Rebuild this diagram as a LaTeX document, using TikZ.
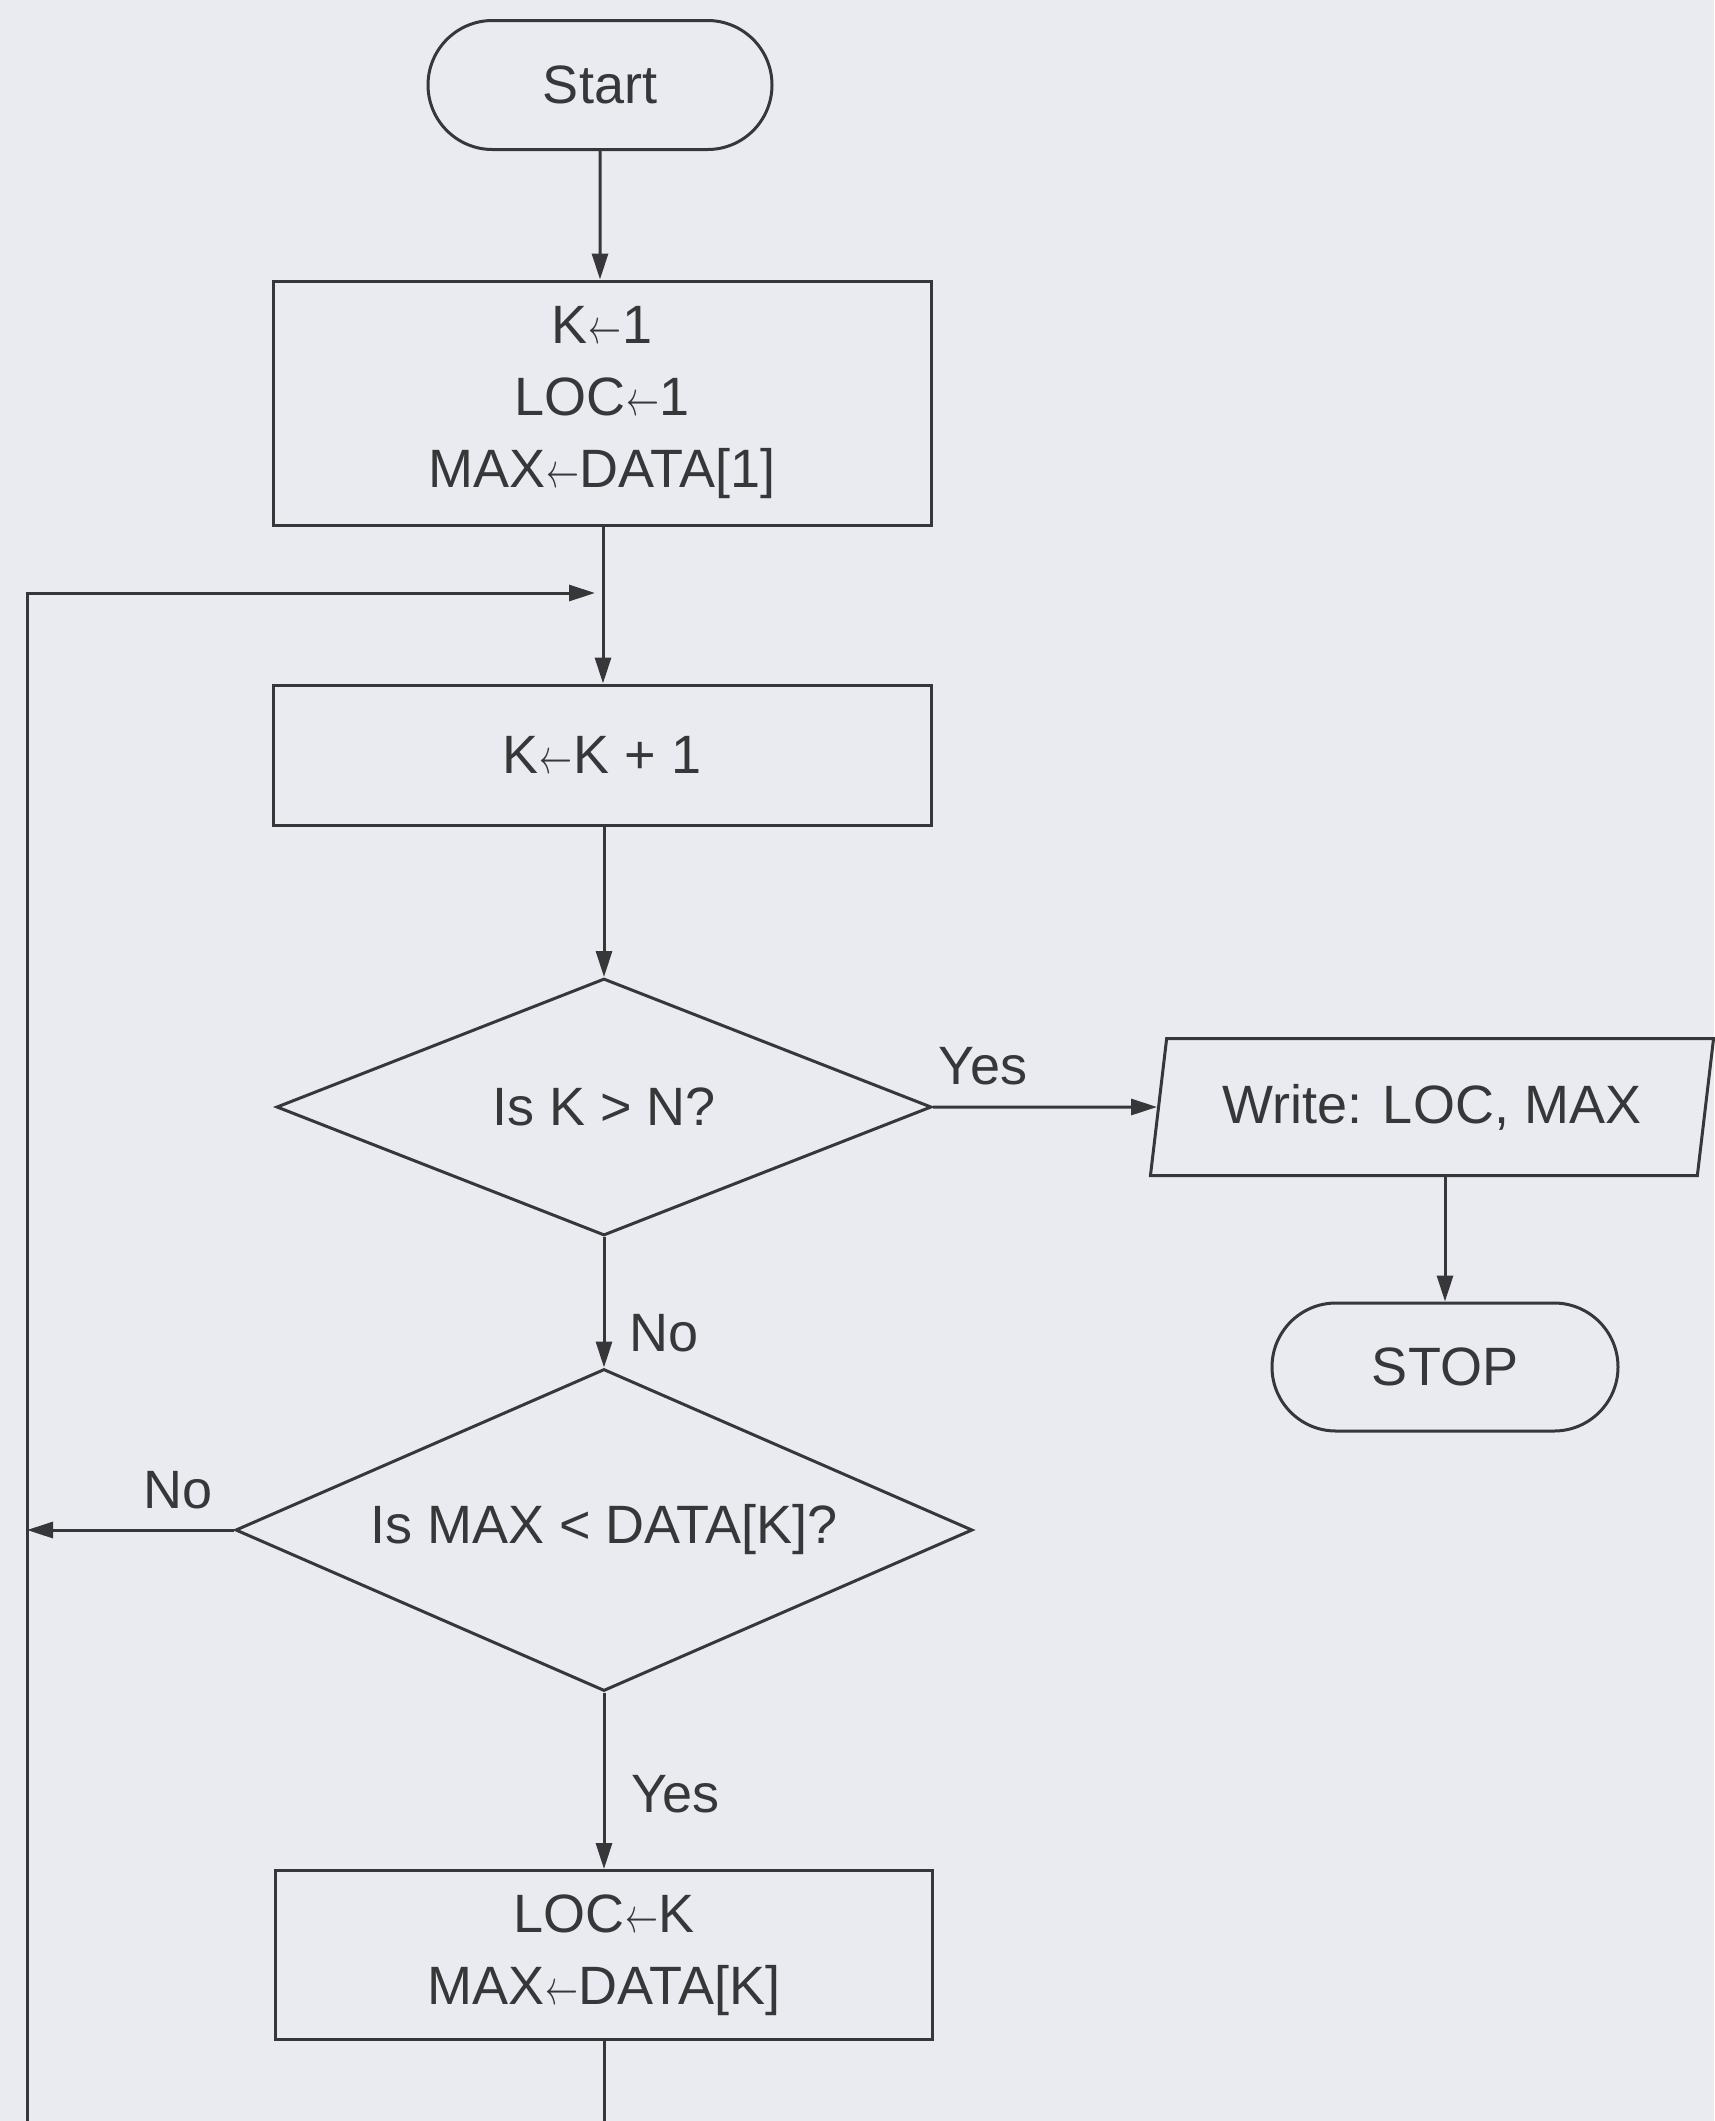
\documentclass[tikz,border=0pt]{standalone}
\usepackage{fontspec}
\usepackage{graphicx}
\setmainfont{Liberation Sans}
\usetikzlibrary{shapes.misc,shapes.geometric,arrows.meta}
\definecolor{paper}{RGB}{233,235,240}
\definecolor{ink}{RGB}{55,55,58}
\newcommand{\asg}{\kern0.5pt\scalebox{0.66}[1.0]{$\leftarrow$}\kern0.5pt}
\begin{document}
\begin{tikzpicture}[x=0.5pt,y=-0.5pt,
  line width=1.5pt, draw=ink, text=ink,
  every node/.style={font=\fontsize{27pt}{36pt}\selectfont, inner sep=0pt},
  term/.style={draw, rounded rectangle},
  box/.style={draw, rectangle, align=center},
  dec/.style={draw, diamond},
  iobox/.style={draw, trapezium, trapezium left angle=74.5, trapezium right angle=105.5, trapezium stretches=true},
  arr/.style={-{Triangle[length=13pt,width=8pt]}},
  lab/.style={font=\fontsize{27pt}{36pt}\selectfont}
]
\fill[paper] (0,0) rectangle (1714,2121);
\useasboundingbox (0,0) rectangle (1714,2121);

\node[term, minimum width=172pt, minimum height=64.5pt] (start) at (600,85) {Start};
\node[box, minimum width=329pt, minimum height=122pt] (init) at (602,403) {K\asg1\\LOC\asg1\\MAX\asg DATA[1]};
\node[box, minimum width=329pt, minimum height=70pt] (inc) at (602,755) {K\asg K + 1};
\node[dec, aspect=2.5, minimum width=327.5pt, minimum height=128.5pt] (d1) at (604,1107) {Is K > N?};
\node[iobox, minimum width=282pt, minimum height=68.5pt] (out) at (1432,1107) {Write: LOC, MAX};
\node[term, minimum width=173pt, minimum height=64pt] (stop) at (1445,1367) {STOP};
\node[dec, aspect=2.3, minimum width=368.5pt, minimum height=161pt] (d2) at (604,1530) {Is MAX < DATA[K]?};
\node[box, minimum width=328.5pt, minimum height=84.5pt] (upd) at (604,1955) {LOC\asg K\\MAX\asg DATA[K]};

\node[lab] (lyes1) at (983,1066) {Yes};
\node[lab, anchor=west] (lno1) at (628,1333) {No};
\node[lab] (lno2) at (178,1490) {No};
\node[lab, anchor=west] (lyes2) at (630,1794) {Yes};

\coordinate (jn) at (603,593);
\coordinate (loopL) at (27,593);
\coordinate (botL) at (27,2121);
\coordinate (botM) at (604,2121);
\coordinate (dl) at (27,1530);

\draw[arr] (start) -- (init.north -| start);
\draw[arr] (init.south -| jn) -- (inc.north -| jn);
\draw[arr] (inc.south -| d1.north) -- (d1.north);
\draw[arr] (d1) -- (out);
\draw[arr] (out.south -| stop.north) -- (stop.north);
\draw[arr] (d1.south) -- (d2.north);
\draw[arr] (d2.south) -- (upd.north -| d2.south);
\draw[arr] (d2.west) -- (dl);
\draw (upd.south -| botM) -- (botM);
\draw[arr] (botL) -- (loopL) -- ([xshift=-4pt]jn);
\end{tikzpicture}
\end{document}
